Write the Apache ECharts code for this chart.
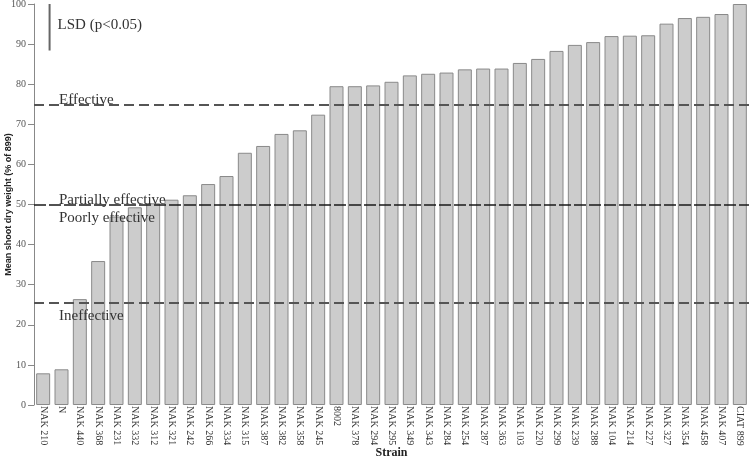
<!DOCTYPE html>
<html>
<head>
<meta charset="utf-8">
<script src="https://cdn.jsdelivr.net/npm/echarts@6/dist/echarts.min.js"></script>
<style>
  html, body { margin: 0; padding: 0; background: #fff; }
  #chart { width: 750px; height: 457px; }
</style>
</head>
<body>
<div id="chart"></div>
<script>
const strains = [
  "NAK 210", "N", "NAK 440", "NAK 368", "NAK 231", "NAK 332", "NAK 312", "NAK 321",
  "NAK 242", "NAK 266", "NAK 334", "NAK 315", "NAK 387", "NAK 382", "NAK 358", "NAK 245",
  "8002", "NAK 378", "NAK 294", "NAK 295", "NAK 349", "NAK 343", "NAK 284", "NAK 254",
  "NAK 287", "NAK 363", "NAK 103", "NAK 220", "NAK 299", "NAK 239", "NAK 288", "NAK 104",
  "NAK 214", "NAK 227", "NAK 327", "NAK 354", "NAK 458", "NAK 407", "CIAT 899"
];
const dryWeight = [
  7.9, 8.9, 26.4, 35.9, 47.0, 49.3, 50.3, 51.2,
  52.3, 55.1, 57.1, 62.9, 64.6, 67.6, 68.5, 72.4,
  79.5, 79.5, 79.7, 80.6, 82.2, 82.6, 82.9, 83.7,
  83.9, 83.9, 85.3, 86.3, 88.3, 89.8, 90.5, 92.0,
  92.1, 92.2, 95.1, 96.5, 96.8, 97.5, 100
];
// threshold lines: [value, label, label side]
const thresholds = [
  [75, "Effective", "top"],
  [50, "Partially effective", "top"],
  [50, "Poorly effective", "bottom"],
  [25.5, "Ineffective", "bottom"]
];
// LSD bar drawn from the top of the axis down
const lsdTop = 100;
const lsdBottom = 88.4;
const lsdText = "LSD (p<0.05)";

const serif = "Liberation Serif";

const chart = echarts.init(document.getElementById("chart"));

function lineStyleFor(t) {
  if (t[1] === "Poorly effective") return { width: 1, color: "rgba(0,0,0,0)" };
  if (t[0] === 50) return { type: [12, 3], color: "#1a1a1a", width: 1.5 };
  return { type: [10, 5], color: "#555", width: 2 };
}

chart.setOption({
  animation: false,
  grid: { left: 34, right: 1, top: 4, bottom: 52, outerBoundsMode: "none" },
  xAxis: {
    type: "category",
    data: strains,
    name: "Strain",
    nameLocation: "middle",
    nameGap: 42,
    nameMoveOverlap: false,
    nameTextStyle: { fontFamily: serif, fontWeight: "bold", fontSize: 12, color: "#222" },
    axisLine: { show: false },
    axisTick: { show: false },
    axisLabel: {
      rotate: -90, interval: 0, margin: 1,
      fontFamily: serif, fontSize: 10, color: "#333"
    }
  },
  yAxis: {
    type: "value",
    min: 0, max: 100, interval: 10,
    name: "Mean shoot dry weight (% of 899)",
    nameLocation: "middle",
    nameGap: 21,
    nameMoveOverlap: false,
    nameTextStyle: { fontFamily: "Liberation Sans", fontWeight: "bold", fontSize: 9, color: "#222" },
    axisLine: { show: true, lineStyle: { color: "#888", width: 1 } },
    axisTick: { show: true, length: 6, lineStyle: { color: "#888" } },
    axisLabel: { fontFamily: serif, fontSize: 10, color: "#555", margin: 8 },
    splitLine: { show: false }
  },
  series: [
    {
      type: "bar",
      data: dryWeight,
      barWidth: 14,
      itemStyle: { color: "#cccccc", borderColor: "#8a8a8a", borderWidth: 1 },
      markLine: {
        silent: true,
        symbol: "none",
        data: thresholds.map(t => ({
          yAxis: t[0],
          lineStyle: lineStyleFor(t),
          label: {
            formatter: t[1],
            position: t[2] === "top" ? "insideStartTop" : "insideStartBottom",
            distance: t[2] === "top" ? [25, -3] : [25, 6],
            fontFamily: serif, fontSize: 15, color: "#333"
          }
        }))
      }
    },
    {
      type: "custom",
      data: [[0, lsdTop, lsdBottom]],
      renderItem: (params, api) => {
        const p1 = api.coord([api.value(0), api.value(1)]);
        const p2 = api.coord([api.value(0), api.value(2)]);
        const dx = api.size([1, 0])[0] * 0.35;
        return {
          type: "group",
          children: [
            {
              type: "line",
              shape: { x1: p1[0] + dx, y1: p1[1], x2: p2[0] + dx, y2: p2[1] },
              style: { stroke: "#666", lineWidth: 2 }
            },
            {
              type: "text",
              x: p1[0] + dx + 8,
              y: (p1[1] + p2[1]) / 2 - 2,
              style: {
                text: lsdText, font: "15px " + serif, fill: "#333",
                verticalAlign: "middle"
              }
            }
          ]
        };
      }
    }
  ]
});
</script>
</body>
</html>
